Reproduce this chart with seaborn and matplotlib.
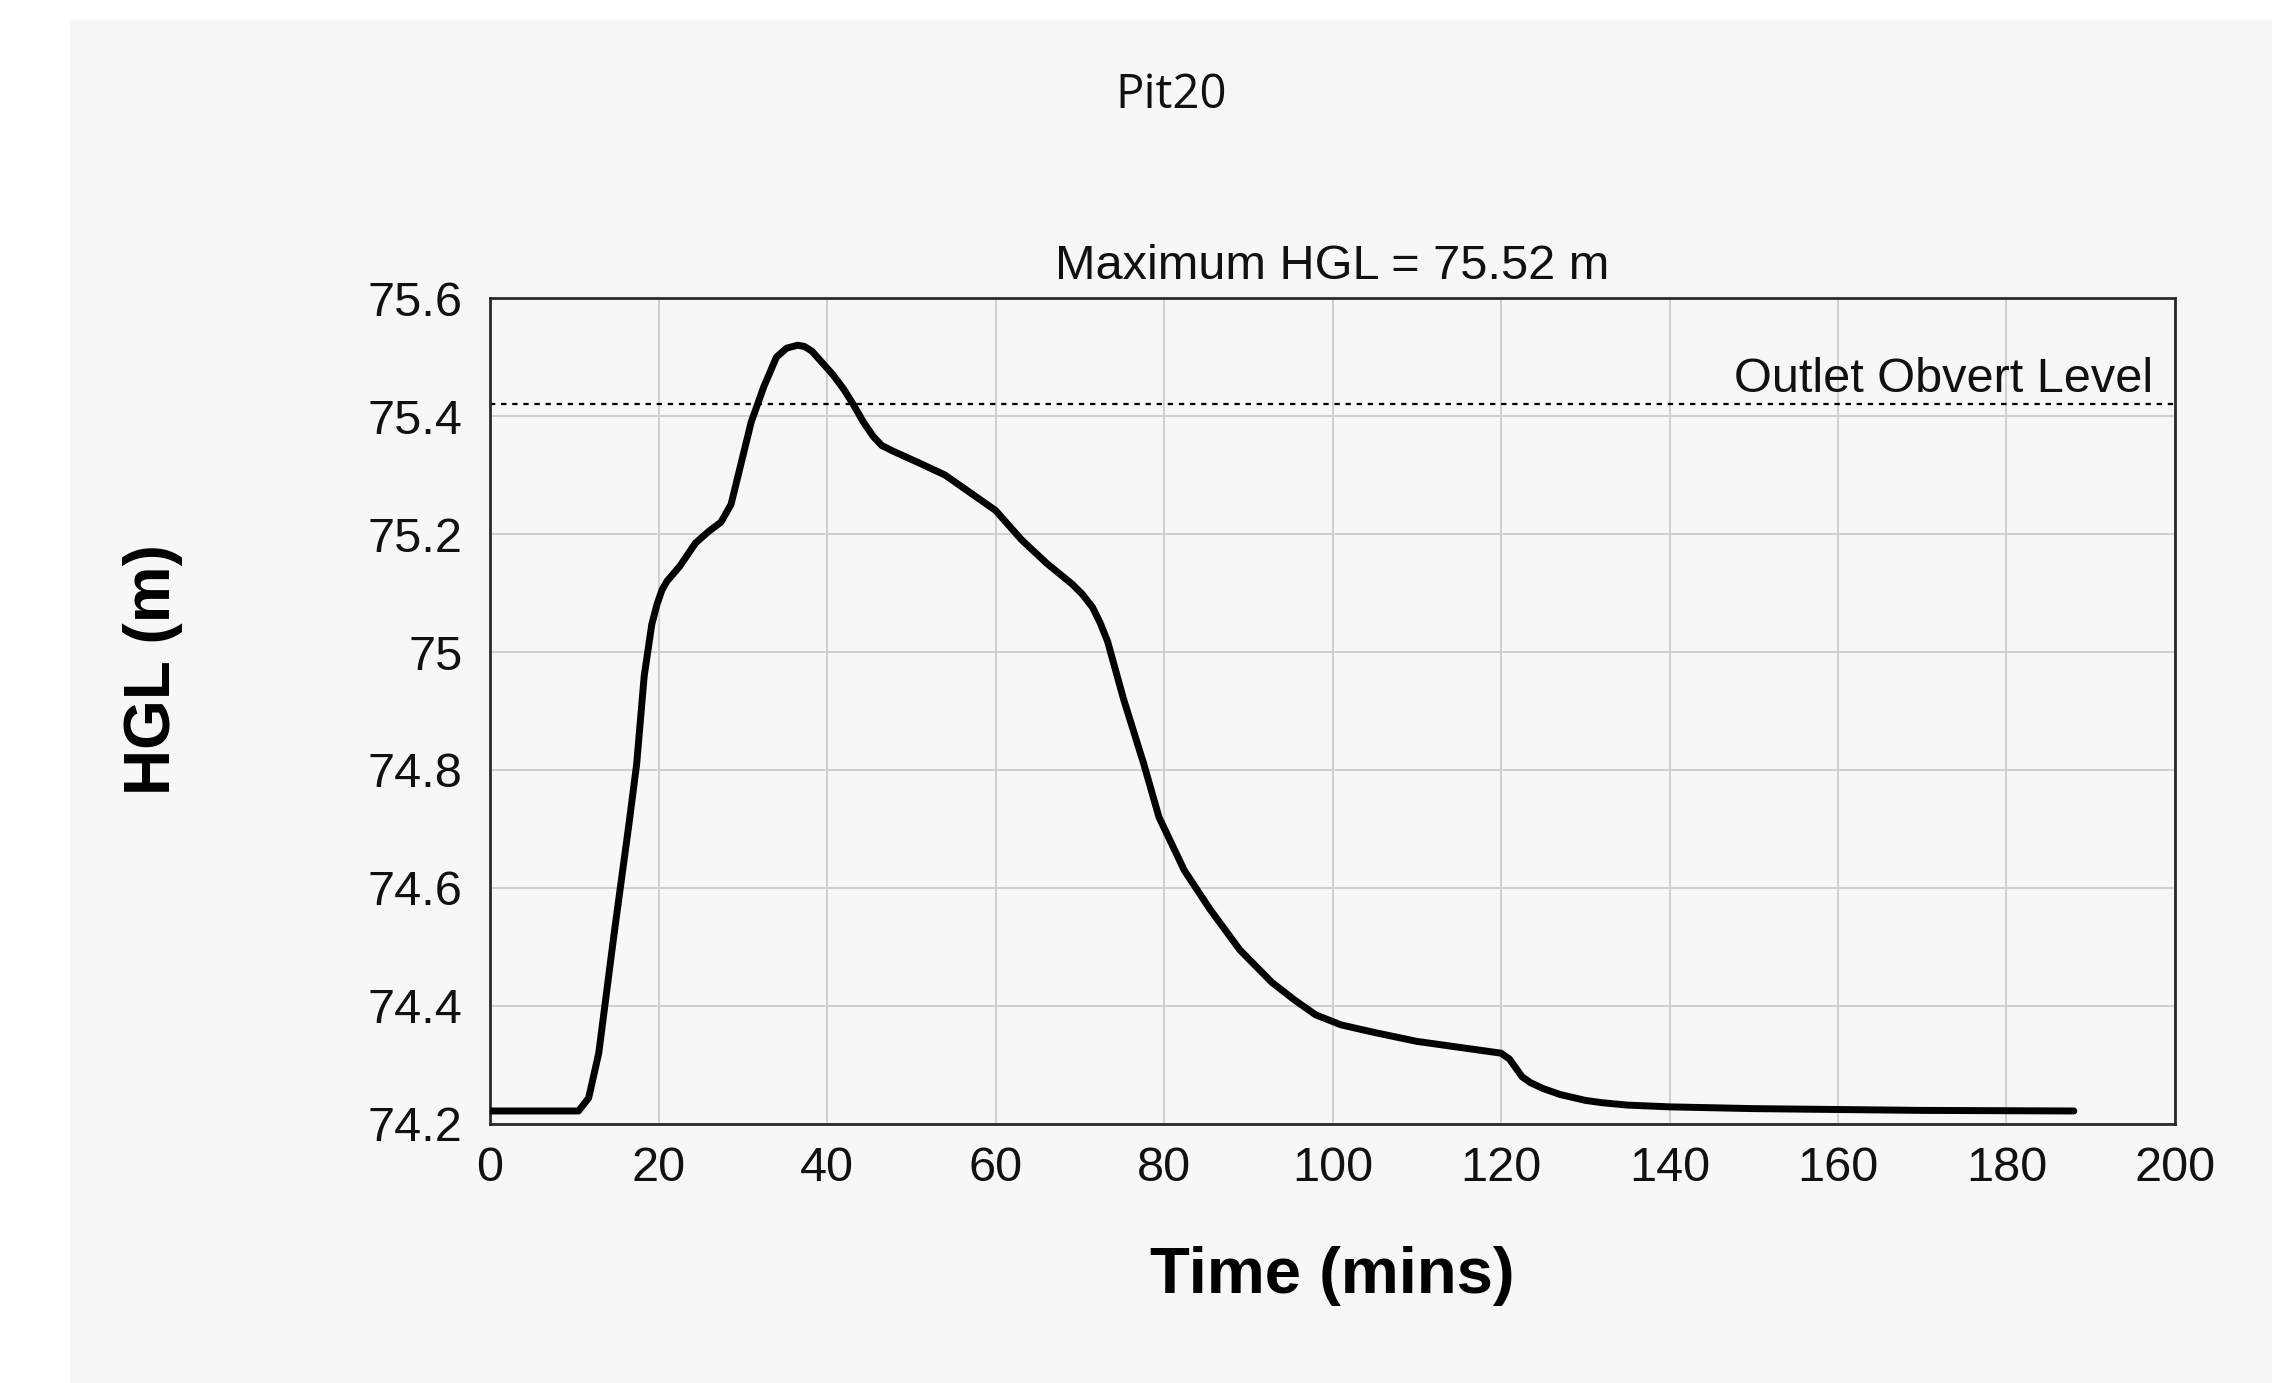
import os
import numpy as np
import pandas as pd
import matplotlib
matplotlib.use("Agg")
import matplotlib.pyplot as plt
import seaborn as sns
from matplotlib.patches import Rectangle

os.environ['MPLCONFIGDIR'] = '/tmp'

# HGL hydrograph for Pit20
time_mins = [0, 10.5, 11.7, 12.9, 13.8, 14.7, 15.6, 16.5, 17.4, 18.3, 19.2,
             19.8, 20.4, 21.0, 22.5, 24.4, 26.0, 27.4, 28.6, 29.8, 31.0, 32.5,
             34.0, 35.2, 36.5, 37.3, 38.2, 40.7, 42.0, 43.1, 44.3, 45.5, 46.5,
             47.9, 51, 54, 57, 60, 63.1, 66.1, 69.1, 70.3, 71.5, 72.4, 73.3,
             75.2, 77.6, 79.4, 82.4, 85.4, 89, 92.8, 95.5, 98, 101, 105,
             110, 115, 119, 120, 121, 122.5, 123.5, 125, 127, 130, 132, 135,
             140, 150, 170, 188]
hgl_m = [74.222, 74.222, 74.244, 74.32, 74.42, 74.52, 74.615, 74.71, 74.81,
         74.96, 75.047, 75.08, 75.105, 75.12, 75.145, 75.185, 75.205, 75.22,
         75.25, 75.32, 75.39, 75.45, 75.50, 75.515, 75.52, 75.518, 75.51,
         75.47, 75.445, 75.42, 75.39, 75.365, 75.35, 75.34, 75.32, 75.30,
         75.27, 75.24, 75.19, 75.15, 75.115, 75.098, 75.076, 75.05, 75.018,
         74.92, 74.81, 74.72, 74.63, 74.565, 74.495, 74.44, 74.41, 74.385,
         74.368, 74.355, 74.34, 74.33, 74.322, 74.32, 74.31, 74.28,
         74.27, 74.26, 74.25, 74.24, 74.236, 74.232, 74.229, 74.226, 74.223,
         74.222]

obvert_level = 75.42
max_hgl = 75.52
pit_name = "Pit20"

x_ticks = [0, 20, 40, 60, 80, 100, 120, 140, 160, 180, 200]
y_ticks = [74.2, 74.4, 74.6, 74.8, 75.0, 75.2, 75.4, 75.6]
y_labels = ["74.2", "74.4", "74.6", "74.8", "75", "75.2", "75.4", "75.6"]

df = pd.DataFrame({"time": time_mins, "hgl": hgl_m})

sns.set_style("white")
plt.rcParams['font.family'] = ['Liberation Sans', 'DejaVu Sans']

bg = "#f7f7f7"
fig = plt.figure(figsize=(22.72, 13.83), dpi=100, facecolor="white")
fig.patches.append(Rectangle((70 / 2272, 0), 1, 1 - 20 / 1383,
                             transform=fig.transFigure, facecolor=bg,
                             edgecolor="none", zorder=-10))

ax = fig.add_axes([0.2157, 0.1873, 0.9573 - 0.2157, 0.7845 - 0.1873])
ax.set_facecolor(bg)
ax.set_zorder(5)

sns.lineplot(data=df, x="time", y="hgl", ax=ax, color="black",
             linewidth=5, zorder=3)
ax.lines[-1].set_solid_joinstyle("round")
ax.axhline(obvert_level, color="black", linewidth=1.6,
           linestyle=(0, (2.4, 2.6)), zorder=2)
ax.text(197.4, 75.44, "Outlet Obvert Level", ha="right", va="baseline",
        fontsize=35, color="#111111")

ax.set_xlim(0, 200)
ax.set_ylim(74.2, 75.6)
ax.set_xticks(x_ticks)
ax.set_yticks(y_ticks)
ax.set_yticklabels(y_labels)
ax.tick_params(axis="both", length=0, labelsize=35, colors="#111111")
ax.tick_params(axis="x", pad=16)
ax.tick_params(axis="y", pad=20)
ax.grid(True, color="#cfcfcf", linewidth=1.4)
for s in ax.spines.values():
    s.set_color("#2a2a2a")
    s.set_linewidth(2)

ax.set_title(f"Maximum HGL = {max_hgl:.2f} m", fontsize=35, pad=14,
             color="#111111")
ax.set_xlabel("Time (mins)", fontsize=47, fontweight="bold", color="black")
ax.set_ylabel("HGL (m)", fontsize=46, fontweight="bold", color="black")
ax.yaxis.set_label_coords(-0.182, 0.55)
ax.xaxis.set_label_coords(0.5, -0.148)

fig.text(1171 / 2272, 1 - 108 / 1383, pit_name, ha="center", va="baseline",
         fontsize=34, family=["Open Sans", "DejaVu Sans"], color="#111111")

plt.savefig("out.png", dpi=100, facecolor=fig.get_facecolor())
plt.close()
